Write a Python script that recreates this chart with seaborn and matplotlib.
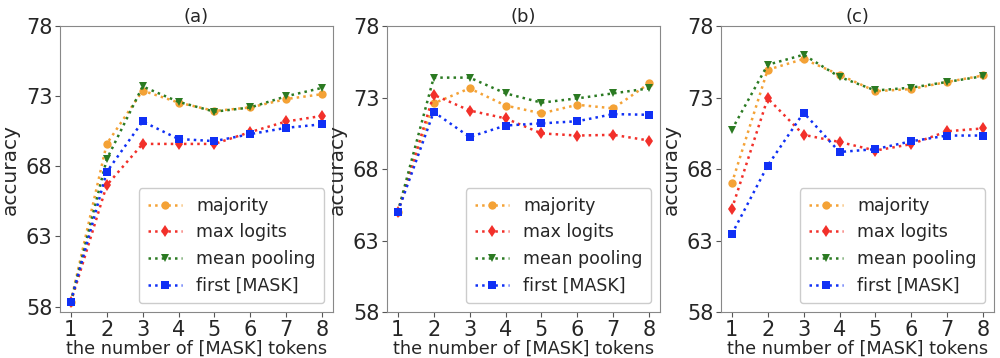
import matplotlib
matplotlib.use("Agg")
import matplotlib.pyplot as plt
import seaborn as sns

sns.set_style("ticks")
plt.rcParams["font.family"] = ["DejaVu Sans"]

tokens = [1, 2, 3, 4, 5, 6, 7, 8]
methods = ["majority", "max logits", "mean pooling", "first [MASK]"]
panels = ["(a)", "(b)", "(c)"]

# panel (a)
a_majority = [58.35, 69.6, 73.4, 72.55, 71.95, 72.2, 72.8, 73.15]
a_maxlogits = [58.3, 66.65, 69.6, 69.6, 69.6, 70.45, 71.2, 71.6]
a_meanpool = [58.3, 68.5, 73.7, 72.6, 71.9, 72.2, 73.0, 73.6]
a_first = [58.35, 67.6, 71.2, 69.95, 69.8, 70.3, 70.75, 71.0]

# panel (b)
b_majority = [65.0, 72.6, 73.65, 72.45, 71.9, 72.5, 72.25, 74.0]
b_maxlogits = [65.0, 73.2, 72.1, 71.55, 70.5, 70.35, 70.4, 70.0]
b_meanpool = [65.0, 74.4, 74.4, 73.3, 72.65, 72.95, 73.3, 73.65]
b_first = [65.0, 72.0, 70.25, 71.05, 71.2, 71.35, 71.85, 71.8]

# panel (c)
c_majority = [67.0, 74.95, 75.7, 74.6, 73.45, 73.6, 74.1, 74.55]
c_maxlogits = [65.2, 72.95, 70.4, 69.9, 69.3, 69.75, 70.65, 70.85]
c_meanpool = [70.75, 75.3, 76.0, 74.45, 73.5, 73.7, 74.1, 74.5]
c_first = [63.45, 68.25, 71.95, 69.2, 69.4, 69.95, 70.35, 70.35]

data = [
    [a_majority, a_maxlogits, a_meanpool, a_first],
    [b_majority, b_maxlogits, b_meanpool, b_first],
    [c_majority, c_maxlogits, c_meanpool, c_first],
]
ylims = [(57.6, 78), (58, 78), (58, 78)]

colors = ["#f4a236", "#f2302a", "#2b7a22", "#1030f5"]
markers = ["o", "d", "v", "s"]

fig = plt.figure(figsize=(10, 3.58), dpi=100)
lefts = [0.060, 0.387, 0.721]

for i in range(3):
    ax = fig.add_axes([lefts[i], 0.128, 0.273, 0.799])
    for j in range(4):
        sns.lineplot(x=tokens, y=data[i][j], ax=ax, color=colors[j],
                     marker=markers[j], linestyle=":", linewidth=1.8,
                     markersize=6, markeredgewidth=0, label=methods[j])
    ax.set_ylim(*ylims[i])
    ax.set_yticks([58, 63, 68, 73, 78])
    ax.set_xticks(tokens)
    ax.set_xlim(0.7, 8.3)
    ax.tick_params(labelsize=15, color="#555555", pad=2)
    ax.set_xlabel("the number of [MASK] tokens", fontsize=12.8, labelpad=0)
    ax.set_ylabel("accuracy", fontsize=14.5, labelpad=4)
    ax.set_title(panels[i], fontsize=13, pad=3)
    for s in ax.spines.values():
        s.set_color("#888888")
    ax.legend(loc="lower right", fontsize=12.5, framealpha=1,
              edgecolor="#cccccc", handlelength=2.0, borderpad=0.5)

plt.savefig("out.png")
plt.close()
